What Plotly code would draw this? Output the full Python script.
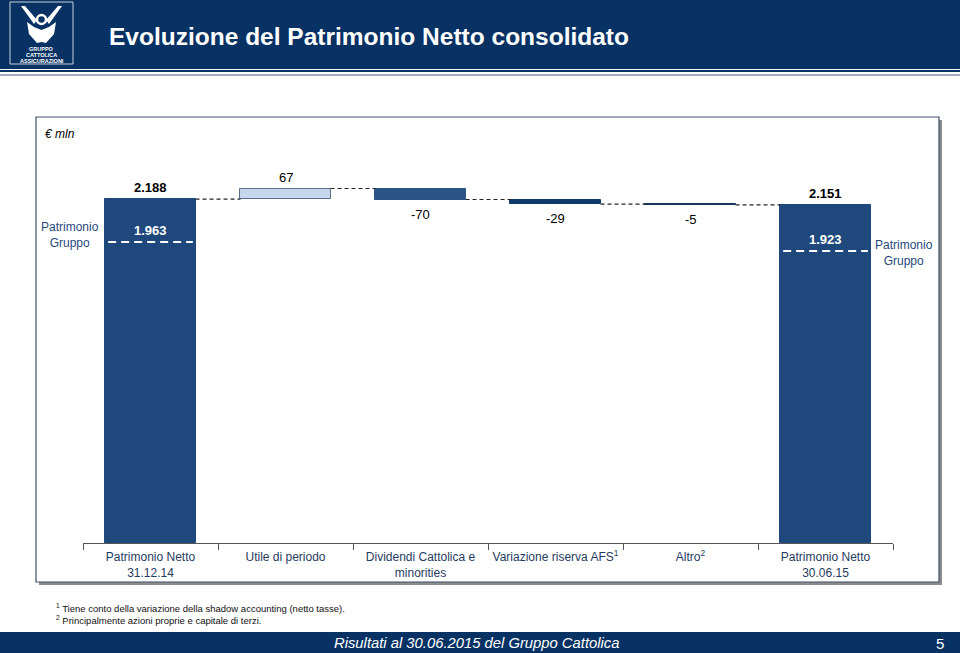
import plotly.graph_objects as go

# ---------------- data ----------------
categories = ["Patrimonio Netto<br>31.12.14", "Utile di periodo",
              "Dividendi Cattolica e<br>minorities", "Variazione riserva AFS<sup>1</sup>",
              "Altro<sup>2</sup>", "Patrimonio Netto<br>30.06.15"]
measures = ["absolute", "relative", "relative", "relative", "relative", "total"]
values = [2188, 67, -70, -29, -5, 2151]
value_labels = ["2.188", "67", "-70", "-29", "-5", "2.151"]
gruppo_values = [1963, 1923]
gruppo_labels = ["1.963", "1.923"]
bar_colors = ["#1f497d", "#c6d7eb", "#2b5586", "#0f3a6c", "#17375e", "#1f497d"]
bar_lines = ["#1f497d", "#5b6f8c", "#2b5586", "#0f3a6c", "#17375e", "#1f497d"]

FONT = "Arial, Liberation Sans, sans-serif"
NAVY = "#083263"

# compute bases / tops
bases, heights, running = [], [], 0
for m, v in zip(measures, values):
    if m == "absolute":
        bases.append(0); heights.append(v); running = v
    elif m == "total":
        bases.append(0); heights.append(running)
    else:
        bases.append(running); heights.append(v); running += v
xs = list(range(len(categories)))
BW = 0.667

fig = go.Figure()
fig.add_trace(go.Bar(x=xs, y=heights, base=bases, width=BW,
                     marker=dict(color=bar_colors, line=dict(color=bar_lines, width=1)),
                     hoverinfo="skip", showlegend=False))

# connectors
cx, cy = [], []
for i in range(len(xs) - 1):
    level = bases[i] + heights[i]
    cx += [xs[i] + BW / 2, xs[i + 1] - BW / 2, None]
    cy += [level, level, None]
fig.add_trace(go.Scatter(x=cx, y=cy, mode="lines",
                         line=dict(color="#222222", width=1.2, dash="4px,3px"),
                         hoverinfo="skip", showlegend=False))

# plot area geometry (px)
L, R, T, B = 83, 893, 150, 543
W, H = R - L, B - T
def px(x): return (x - L) / W
def py(y): return (B - y) / H

shapes = []
annotations = []

def note(xp, yp, text, size, color, xanchor="center", yanchor="middle"):
    annotations.append(dict(x=px(xp), y=py(yp), xref="paper", yref="paper", text=text,
                            showarrow=False, xanchor=xanchor, yanchor=yanchor,
                            font=dict(family=FONT, size=size, color=color)))

# value labels
for i, (v, lab) in enumerate(zip(values, value_labels)):
    top = bases[i] + heights[i]
    if measures[i] != "relative":
        annotations.append(dict(x=xs[i], y=top, xref="x", yref="y", text="<b>" + lab + "</b>",
                                showarrow=False, xanchor="center", yanchor="bottom", yshift=2,
                                font=dict(family=FONT, size=13, color="#000000")))
    elif v > 0:
        annotations.append(dict(x=xs[i], y=top, xref="x", yref="y", text=lab,
                                showarrow=False, xanchor="center", yanchor="bottom", yshift=2,
                                font=dict(family=FONT, size=13, color="#000000")))
    else:
        annotations.append(dict(x=xs[i], y=top, xref="x", yref="y", text=lab, showarrow=False,
                                xanchor="center", yanchor="top", yshift=-5,
                                font=dict(family=FONT, size=13, color="#000000")))

# Patrimonio Gruppo inside labels + dashed white lines
for idx, gl, lpx in zip([0, 5], gruppo_labels, [242, 251]):
    annotations.append(dict(x=xs[idx], y=py(lpx), xref="x", yref="paper",
                            text="<b>" + gl + "</b>", showarrow=False,
                            xanchor="center", yanchor="bottom", yshift=2,
                            font=dict(family=FONT, size=13, color="white")))
    shapes.append(dict(type="line", xref="x", yref="paper", x0=xs[idx] - BW / 2 + 0.02,
                       x1=xs[idx] + BW / 2 - 0.02, y0=py(lpx), y1=py(lpx),
                       line=dict(color="white", width=2, dash="8px,5px")))

note(70, 235, "Patrimonio<br>Gruppo", 12, "#1f497d")
note(904, 253, "Patrimonio<br>Gruppo", 12, "#1f497d")

# chart frame (shadow + box)
shapes.append(dict(type="rect", xref="paper", yref="paper", x0=px(39), x1=px(942),
                   y0=py(585), y1=py(120), fillcolor="#8c8c8c", line=dict(width=0), layer="below"))
shapes.append(dict(type="rect", xref="paper", yref="paper", x0=px(36), x1=px(939),
                   y0=py(582), y1=py(117), fillcolor="white",
                   line=dict(color="#3e5068", width=1.2), layer="below"))
note(43, 134, "<i>€ mln</i>", 12, "#000000", xanchor="left")

# header
shapes.append(dict(type="rect", xref="paper", yref="paper", x0=px(0), x1=px(960),
                   y0=py(69), y1=py(0), fillcolor=NAVY, line=dict(width=0), layer="below"))
shapes.append(dict(type="line", xref="paper", yref="paper", x0=px(0), x1=px(960),
                   y0=py(71), y1=py(71), line=dict(color=NAVY, width=2)))
shapes.append(dict(type="line", xref="paper", yref="paper", x0=px(0), x1=px(960),
                   y0=py(75), y1=py(75), line=dict(color="#a3adbb", width=2)))
note(107, 37, "<b>Evoluzione del Patrimonio Netto consolidato</b>", 24.5, "white", xanchor="left")

# logo
def ppath(pts):
    return "M " + " L ".join(f"{px(a)},{py(b)}" for a, b in pts) + " Z"
shapes.append(dict(type="rect", xref="paper", yref="paper", x0=px(10), x1=px(73),
                   y0=py(64), y1=py(2), line=dict(color="#c8d0dc", width=1)))
shapes.append(dict(type="path", xref="paper", yref="paper",
                   path=ppath([(21, 6), (25, 6), (37, 20), (34, 24)]), fillcolor="white",
                   line=dict(width=0)))
shapes.append(dict(type="path", xref="paper", yref="paper",
                   path=ppath([(62, 6), (58, 6), (46, 20), (49, 24)]), fillcolor="white",
                   line=dict(width=0)))
shapes.append(dict(type="circle", xref="paper", yref="paper", x0=px(37), x1=px(46),
                   y0=py(24), y1=py(15), line=dict(color="white", width=2.5)))
shapes.append(dict(type="path", xref="paper", yref="paper",
                   path=ppath([(27, 22), (34, 27), (41.5, 30), (49, 27), (56, 22), (54, 34),
                               (46, 43), (41.5, 42), (37, 43), (29, 34)]),
                   fillcolor="white", line=dict(width=0)))
for yy, t in zip([49.5, 55, 60.5], ["GRUPPO", "CATTOLICA", "ASSICURAZIONI"]):
    note(41.5, yy, "<b>" + t + "</b>", 5.5, "white")

# footnotes
note(54, 608, "<sup>1</sup> Tiene conto della variazione della shadow accounting (netto tasse).",
     9.5, "#111111", xanchor="left")
note(54, 620, "<sup>2</sup> Principalmente azioni proprie e capitale di terzi.",
     9.5, "#111111", xanchor="left")

# footer
shapes.append(dict(type="rect", xref="paper", yref="paper", x0=px(0), x1=px(960),
                   y0=py(653), y1=py(632), fillcolor=NAVY, line=dict(width=0), layer="below"))
note(476, 643, "<i>Risultati al 30.06.2015 del Gruppo Cattolica</i>", 14.8, "white")
note(940, 643, "5", 15, "white")

fig.update_layout(
    width=960, height=653,
    margin=dict(l=L, r=960 - R, t=T, b=653 - B, pad=0),
    paper_bgcolor="white", plot_bgcolor="rgba(0,0,0,0)",
    showlegend=False, bargap=0,
    shapes=shapes, annotations=annotations,
    font=dict(family=FONT),
    xaxis=dict(range=[-0.5, 5.5], tickvals=xs, ticktext=categories, ticks="",
               showgrid=False, zeroline=False, showline=True, linecolor="#555555",
               linewidth=1, tickfont=dict(family=FONT, size=12, color="#1f3b5e"),
               ticklabelstandoff=3,
               minor=dict(tickvals=[i - 0.5 for i in range(len(xs) + 1)], ticks="outside",
                          ticklen=6, tickcolor="#555555", tickwidth=1, showgrid=False),
               fixedrange=True),
    yaxis=dict(range=[0, 2500], visible=False, showgrid=False, zeroline=False, fixedrange=True),
)

fig.write_html("out.html")
